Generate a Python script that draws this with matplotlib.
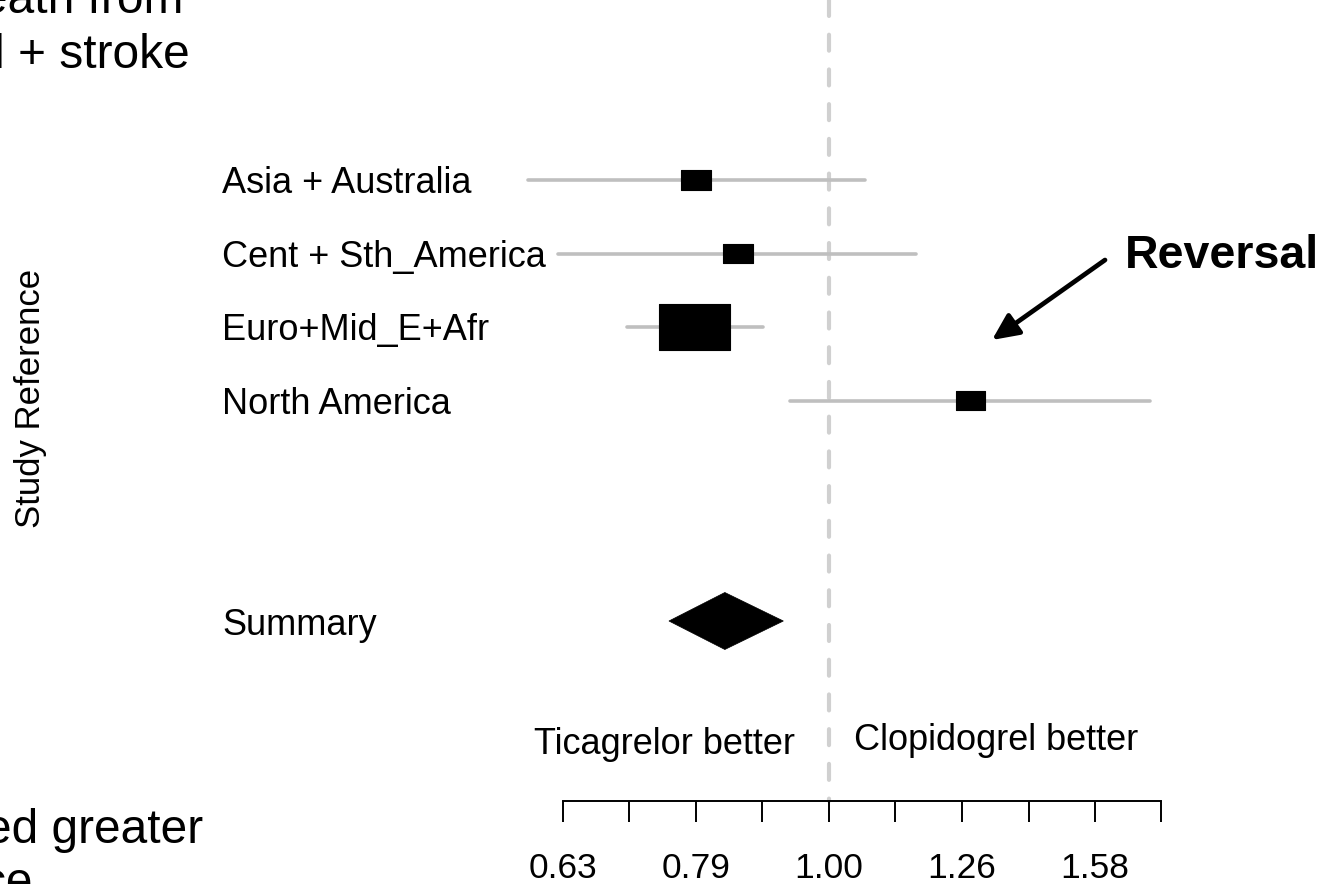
"""Forest plot: ticagrelor vs clopidogrel by region."""

import numpy as np
import matplotlib.pyplot as plt
from matplotlib.patches import Rectangle, Polygon

plt.rcParams["font.family"] = ["Liberation Sans", "DejaVu Sans"]
plt.rcParams["lines.scale_dashes"] = False

# data (hazard ratios)
regions = ["Asia + Australia", "Cent + Sth_America", "Euro+Mid_E+Afr", "North America"]
hr = [0.794, 0.854, 0.792, 1.277]
ci_lo = [0.594, 0.625, 0.705, 0.935]
ci_hi = [1.064, 1.162, 0.892, 1.743]
weight = [580, 560, 3285, 530]          # relative box area
summary_hr, summary_lo, summary_hi = 0.835, 0.758, 0.924
summary_label = "Summary"
summary_row = 6

tick_vals = [10 ** (-0.2 + 0.05 * k) for k in range(10)]
tick_labels = ["0.63", "", "0.79", "", "1.00", "", "1.26", "", "1.58", ""]

# layout in pixels of a 1333x884 canvas
W, H = 1333, 884
px_per_dec = 1330.0
x_ref_px = 829.0
row0_px, row_step = 180.0, 73.5

fig = plt.figure(figsize=(W / 100, H / 100), dpi=100)
ax = fig.add_axes([0, 0, 1, 1])
ax.set_xscale("log")
ax.set_xlim(10 ** (-x_ref_px / px_per_dec), 10 ** ((W - x_ref_px) / px_per_dec))
ax.set_ylim((H - row0_px) / row_step, -row0_px / row_step)
ax.patch.set_alpha(0)

axis_row = (801 - row0_px) / row_step

# reference line at 1
ax.plot([1, 1], [-row0_px / row_step, axis_row], color="#d0d0d0", lw=3,
        dashes=(11.5, 13.5), dash_capstyle="round", zorder=1)

# study rows
for i, (lab, m, lo, hi, w) in enumerate(zip(regions, hr, ci_lo, ci_hi, weight)):
    ax.plot([lo, hi], [i, i], color="#bfbfbf", lw=2.6, solid_capstyle="round", zorder=2)
    bw = np.sqrt(w * 1.55) / px_per_dec
    bh = np.sqrt(w / 1.55) / row_step
    lm = np.log10(m)
    ax.add_patch(Rectangle((10 ** (lm - bw / 2), i - bh / 2), 10 ** (lm + bw / 2) - 10 ** (lm - bw / 2), bh,
                           facecolor="black", edgecolor="black", lw=0.8, joinstyle="round", zorder=3))
    ax.text(10 ** ((222 - x_ref_px) / px_per_dec), i + 0.18, lab, fontsize=26, va="baseline", ha="left")

# summary diamond
dh = 28.5 / row_step
ax.add_patch(Polygon([(summary_lo, summary_row), (summary_hr, summary_row - dh),
                      (summary_hi, summary_row), (summary_hr, summary_row + dh)],
                     closed=True, facecolor="black", edgecolor="black", lw=0.5, zorder=3))
ax.text(10 ** ((222 - x_ref_px) / px_per_dec), summary_row + 0.19, summary_label,
        fontsize=26, va="baseline", ha="left")

# x axis
for s in ["top", "right", "left"]:
    ax.spines[s].set_visible(False)
ax.spines["bottom"].set_position(("data", axis_row))
ax.spines["bottom"].set_bounds(tick_vals[0], tick_vals[-1])
ax.spines["bottom"].set_linewidth(1.4)
ax.set_xticks(tick_vals)
ax.set_xticklabels(tick_labels)
ax.xaxis.set_minor_locator(plt.NullLocator())
ax.tick_params(axis="x", direction="out", length=15, width=1.4, pad=22, labelsize=25.5)
ax.set_yticks([])

def ftext(x, y, s, **kw):
    fig.text(x / W, 1 - y / H, s, **kw)

ftext(31, 398, "Study Reference", rotation=90, ha="center", va="center", fontsize=25)
ftext(665, 754, "Ticagrelor better", ha="center", va="baseline", fontsize=26)
ftext(996, 750, "Clopidogrel better", ha="center", va="baseline", fontsize=26)
ftext(1125, 268, "Reversal", ha="left", va="baseline", fontsize=33.5, fontweight="bold")

ax.annotate("", xy=(992, H - 340), xytext=(1105, H - 260), xycoords="figure pixels",
            textcoords="figure pixels",
            arrowprops=dict(arrowstyle="-|>,head_length=1.6,head_width=0.75", color="black", lw=3.4,
                            shrinkA=0, shrinkB=0))

# text cut off from the neighbouring slide content
ftext(183, 13, "eath from", ha="right", va="baseline", fontsize=34.5)
ftext(190, 68, "l + stroke", ha="right", va="baseline", fontsize=34.5)
ftext(203, 843, "ed greater", ha="right", va="baseline", fontsize=34.5)
ftext(32, 896, "ce", ha="right", va="baseline", fontsize=34.5)

fig.savefig("out.png", dpi=100)
